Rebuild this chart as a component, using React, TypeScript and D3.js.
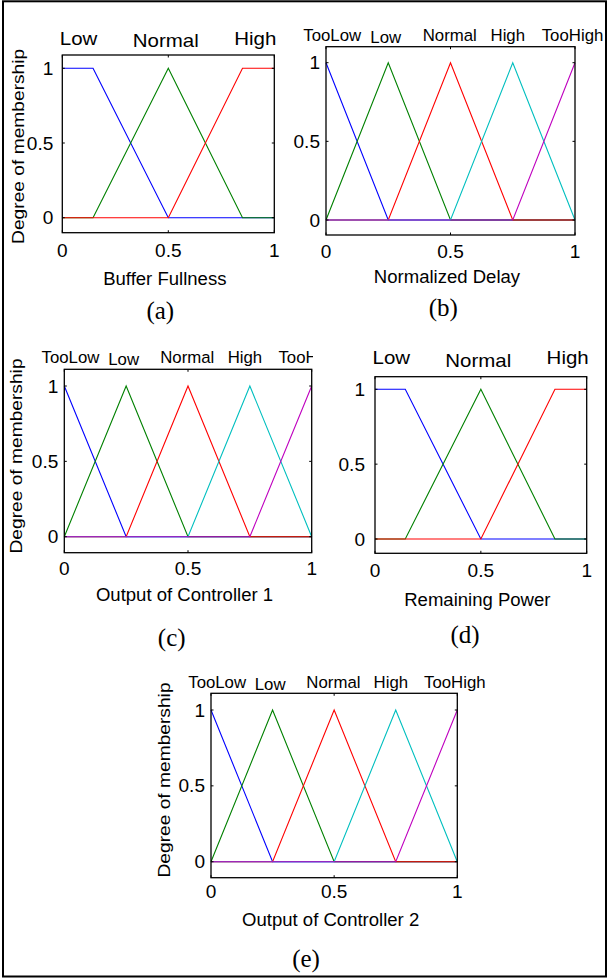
import React from 'react';
import * as d3 from 'd3';

// ---------- data ----------
const tickValues = [0, 0.5, 1];
const tickLabels = ['0', '0.5', '1'];

const names3 = ['Low', 'Normal', 'High'];
const names5 = ['TooLow', 'Low', 'Normal', 'High', 'TooHigh'];

// Buffer fullness membership functions ([x, degree])
const bufferLow = [[0, 1], [0.145, 1], [0.5, 0], [1, 0]];
const bufferNormal = [[0, 0], [0.145, 0], [0.5, 1], [0.85, 0], [1, 0]];
const bufferHigh = [[0, 0], [0.5, 0], [0.85, 1], [1, 1]];

// Remaining power membership functions
const powerLow = [[0, 1], [0.143, 1], [0.5, 0], [1, 0]];
const powerNormal = [[0, 0], [0.143, 0], [0.5, 1], [0.85, 0], [1, 0]];
const powerHigh = [[0, 0], [0.5, 0], [0.85, 1], [1, 1]];

// Five-set membership functions (delay, controller outputs)
const fiveTooLow = [[0, 1], [0.25, 0], [1, 0]];
const fiveLow = [[0, 0], [0.25, 1], [0.5, 0], [1, 0]];
const fiveNormal = [[0, 0], [0.25, 0], [0.5, 1], [0.75, 0], [1, 0]];
const fiveHigh = [[0, 0], [0.5, 0], [0.75, 1], [1, 0]];
const fiveTooHigh = [[0, 0], [0.75, 0], [1, 1]];

const xLabels = ['Buffer Fullness', 'Normalized Delay', 'Output of Controller 1', 'Remaining Power', 'Output of Controller 2'];
const captions = ['(a)', '(b)', '(c)', '(d)', '(e)'];
const yLabel = 'Degree of membership';

// ---------- styles / layout ----------
const colors5 = ['#0000ff', '#008000', '#ff0000', '#00bfbf', '#bf00bf'];
const SANS = '"Liberation Sans", Arial, sans-serif';
const SERIF = '"Liberation Serif", "Times New Roman", serif';

const labelPos3 = [0.077, 0.488, 0.91];
const labelPos5 = [0.025, 0.24, 0.497, 0.73, 0.99];

const panels = [
  { mfs: [bufferLow, bufferNormal, bufferHigh], names: names3, lpos: labelPos3, xl: 0, cap: 0,
    left: 62.3, right: 274.3, top: 55, bottom: 232.7, y0: 217.7, y1: 68.3,
    lblBase: -10, lblShift: [0, 1.7, 0], yTickGap: 9, xTickDy: 24.6, xLabDy: 52.3, yLab: true, yLabDx: -38.2, yLabDy: 2.5,
    capX: 160.3, capY: 319, clipRight: null },
  { mfs: [fiveTooLow, fiveLow, fiveNormal, fiveHigh, fiveTooHigh], names: names5, lpos: labelPos5, xl: 1, cap: 1,
    left: 326, right: 575, top: 46.7, bottom: 235, y0: 220, y1: 62.7,
    lblBase: -6, lblShift: [0, 2.6, 0, 0, 0], yTickGap: 6, xTickDy: 23.3, xLabDy: 48.3, yLab: false, yLabDx: 0, yLabDy: 0,
    capX: 443.3, capY: 316, clipRight: null },
  { mfs: [fiveTooLow, fiveLow, fiveNormal, fiveHigh, fiveTooHigh], names: names5, lpos: labelPos5, xl: 2, cap: 2,
    left: 64.3, right: 311.7, top: 369.3, bottom: 552.7, y0: 536.7, y1: 386,
    lblBase: -6, lblShift: [0, 1.7, 0, 0, 0], yTickGap: 6, xTickDy: 22.3, xLabDy: 48, yLab: true, yLabDx: -42.5, yLabDy: -5,
    capX: 171.7, capY: 645.5, clipRight: 313 },
  { mfs: [powerLow, powerNormal, powerHigh], names: names3, lpos: labelPos3, xl: 3, cap: 3,
    left: 375, right: 586.7, top: 376.7, bottom: 553.3, y0: 539, y1: 389.3,
    lblBase: -12.4, lblShift: [0, 3, 0], yTickGap: 10, xTickDy: 23.4, xLabDy: 52.7, yLab: false, yLabDx: 0, yLabDy: 0,
    capX: 465, capY: 642.5, clipRight: null },
  { mfs: [fiveTooLow, fiveLow, fiveNormal, fiveHigh, fiveTooHigh], names: names5, lpos: labelPos5, xl: 4, cap: 4,
    left: 211, right: 457.3, top: 693.3, bottom: 877.7, y0: 861.7, y1: 710,
    lblBase: -5.6, lblShift: [0, 2.3, 0, 0, 0], yTickGap: 6, xTickDy: 20.6, xLabDy: 48.3, yLab: true, yLabDx: -41, yLabDy: -5.5,
    capX: 306, capY: 967, clipRight: null },
];

function T({ x, y, text, size, sx = 1, anchor = 'start', rotate = 0, family = SANS }: any) {
  return (
    <text
      transform={`translate(${x},${y}) rotate(${rotate}) scale(${sx},1)`}
      fontSize={size}
      fontFamily={family}
      textAnchor={anchor}
      fill="#000"
    >
      {text}
    </text>
  );
}

function Panel({ p, idx }: any) {
  const xs = d3.scaleLinear().domain([0, 1]).range([p.left, p.right]);
  const ys = d3.scaleLinear().domain([0, 1]).range([p.y0, p.y1]);
  const line = d3.line<number[]>().x((d) => xs(d[0])).y((d) => ys(d[1]));
  const is3 = p.names.length === 3;
  const lblSize = is3 ? 18.6 : 16.8;
  const lblSx = is3 ? 1.1 : 1.0;
  const tl = 2.5;
  const cx = (p.left + p.right) / 2;
  const cy = (p.top + p.bottom) / 2;
  const clipId = `clip-${idx}`;
  return (
    <g>
      {p.clipRight != null && (
        <defs>
          <clipPath id={clipId}>
            <rect x={0} y={0} width={p.clipRight} height={979} />
          </clipPath>
        </defs>
      )}
      {/* membership functions */}
      {p.mfs.map((mf: number[][], i: number) => (
        <path key={i} d={line(mf) || ''} fill="none" stroke={colors5[i]} strokeWidth={1.1} />
      ))}
      {/* box */}
      <rect x={p.left} y={p.top} width={p.right - p.left} height={p.bottom - p.top} fill="none" stroke="#000" strokeWidth={1.3} />
      {/* ticks */}
      {tickValues.map((v, i) => (
        <g key={'t' + i}>
          <line x1={xs(v)} x2={xs(v)} y1={p.bottom} y2={p.bottom - tl} stroke="#000" />
          <line x1={xs(v)} x2={xs(v)} y1={p.top} y2={p.top + tl} stroke="#000" />
          <line x1={p.left} x2={p.left + tl} y1={ys(v)} y2={ys(v)} stroke="#000" />
          <line x1={p.right} x2={p.right - tl} y1={ys(v)} y2={ys(v)} stroke="#000" />
        </g>
      ))}
      {/* tick labels */}
      {tickValues.map((v, i) => (
        <g key={'l' + i}>
          <T x={xs(v)} y={p.bottom + p.xTickDy} text={tickLabels[i]} size={18} sx={1.06} anchor="middle" />
          <T x={p.left - p.yTickGap} y={ys(v) + 6.5} text={tickLabels[i]} size={18} sx={1.06} anchor="end" />
        </g>
      ))}
      {/* MF names */}
      <g clipPath={p.clipRight != null ? `url(#${clipId})` : undefined}>
        {p.names.map((n: string, i: number) => (
          <T key={n} x={xs(p.lpos[i])} y={p.top + p.lblBase + p.lblShift[i]} text={n} size={lblSize} sx={lblSx} anchor="middle" />
        ))}
      </g>
      {/* axis labels */}
      <T x={cx - 3.5} y={p.bottom + p.xLabDy} text={xLabels[p.xl]} size={17.5} sx={1.06} anchor="middle" />
      {p.yLab && (
        <T x={p.left + p.yLabDx} y={cy + p.yLabDy} text={yLabel} size={16} sx={1.2} anchor="middle" rotate={-90} />
      )}
      {/* caption */}
      <T x={p.capX} y={p.capY} text={captions[p.cap]} size={25} anchor="middle" family={SERIF} />
    </g>
  );
}

export default function App() {
  return (
    <svg
      width={609}
      height={979}
      style={{ position: 'absolute', left: 0, top: 0, background: '#fff' }}
    >
      <rect x={0} y={0} width={609} height={979} fill="#fff" />
      <rect x={3} y={1.3} width={603} height={975.2} fill="none" stroke="#000" strokeWidth={2} />
      {panels.map((p, i) => (
        <Panel key={i} p={p} idx={i} />
      ))}
    </svg>
  );
}
